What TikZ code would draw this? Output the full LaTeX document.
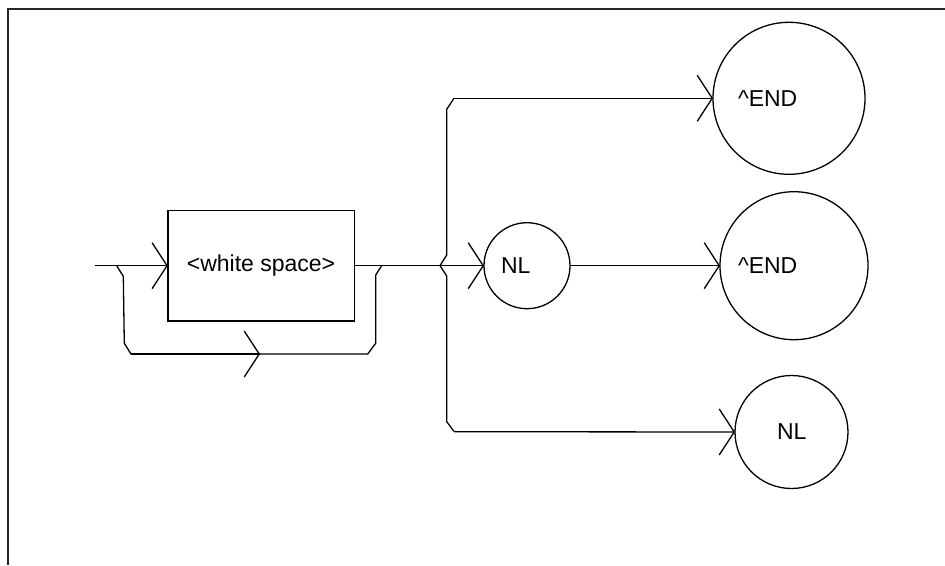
\documentclass[tikz,border=0pt]{standalone}
\usepackage{fontspec}
\setmainfont{Liberation Sans}
\usetikzlibrary{arrows.meta}
\begin{document}
\begin{tikzpicture}[x=1pt,y=-1pt,
  line width=1.3pt,
  conn/.style={draw=black},
  arr/.style={-{Straight Barb[length=15pt,width=46pt]}},
  boxnode/.style={draw, rectangle, minimum width=186.3pt, minimum height=110.7pt, inner sep=0pt, outer sep=0pt, font=\fontsize{23}{26}\selectfont},
  circnode/.style={draw, circle, inner sep=0pt, outer sep=0pt, font=\fontsize{23}{26}\selectfont}
]
\useasboundingbox (0,0) rectangle (945,565);
\draw[line width=2pt, draw=black!85] (7.5,565) -- (7.5,8.5) -- (945,8.5);

\node[boxnode] (box) at (261,265.7) {<white space>};
\node[circnode, minimum size=86pt] (nla) at (527,265.7) {\makebox[52pt][l]{NL}};
\node[circnode, minimum size=152pt] (enda) at (789,98.3) {\makebox[102pt][l]{\^{}END}};
\node[circnode, minimum size=148pt] (endb) at (794,265.7) {\makebox[112pt][l]{\^{}END}};
\node[circnode, minimum size=113pt] (nlb) at (791.5,432) {\makebox[29pt][l]{NL}};

\coordinate (start) at (95,265.7);
\coordinate (ja) at (116.7,265.7);
\coordinate (jb) at (381.7,265.7);
\coordinate (lm) at (260,354);
\coordinate (fork) at (440,265.7);
\coordinate (ftop) at (454,98.3);
\coordinate (fbot) at (454.3,431.7);

% entry
\draw[conn,arr] (start) -- (box.west);
% loop-back
\draw[conn] (ja) -- (123.3,276.3) -- (124.3,343.3) -- (131,354) -- (lm);
\draw[conn,arr] (131,354) -- (lm);
\draw[conn] (lm) -- (367.7,354) -- (375.7,343.3) -- (375.7,275) -- (jb);
% main line to fork
\draw[conn] (box.east) -- (fork);
\draw[conn,arr] (fork) -- (nla.west);
% fork bar
\draw[conn] (ftop) -- (446.7,109.3) -- (446.7,255) -- (fork) -- (446.7,276) -- (446.7,421.7) -- (fbot);
\draw[conn,arr] (ftop) -- (enda.west);
\draw[conn,arr] (fbot) -- (nlb.west);
% NL to ^END
\draw[conn,arr] (nla.east) -- (endb.west);
\end{tikzpicture}
\end{document}
